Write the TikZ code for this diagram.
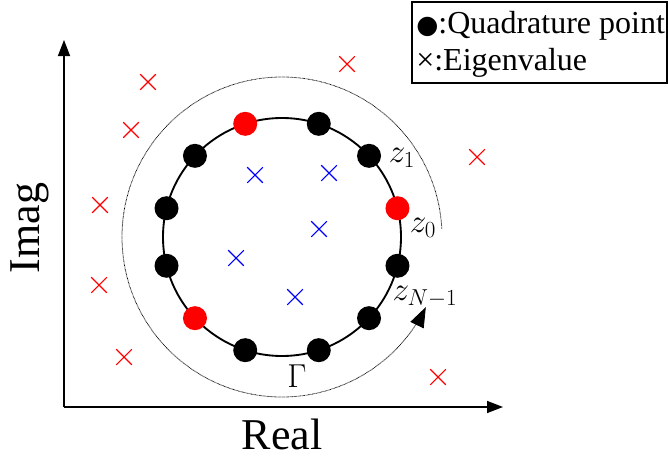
\documentclass[tikz,border=0pt]{standalone}
\usepackage{fontspec}
\setmainfont{Liberation Serif}
\newfontfamily\djv{DejaVu Sans}
\usetikzlibrary{arrows.meta,shapes.misc,calc}
\tikzset{
  ax/.style={line width=1.1pt,-{Triangle[length=12pt,width=9pt]}},
  qp/.style={circle,fill=black,inner sep=0pt,minimum size=18pt},
  rp/.style={qp,fill=red},
  evout/.style={cross out,draw=red,line width=0.8pt,minimum size=11pt,inner sep=0pt},
  evin/.style={evout,draw=blue},
  zlab/.style={inner sep=0pt,font=\fontsize{23}{27}\selectfont},
  big/.style={inner sep=0pt,font=\fontsize{33}{40}\selectfont},
  leg/.style={inner sep=0pt,anchor=base west,font=\fontsize{24}{28}\selectfont}
}
\begin{document}
\begin{tikzpicture}[x=0.75pt,y=-0.75pt]
\useasboundingbox (0,0) rectangle (668,457);
% axes
\coordinate (O) at (64,407);
\coordinate (ytip) at (64,40);
\coordinate (xtip) at (503,407);
\draw[ax] (O) -- (ytip);
\draw[ax] (O) -- (xtip);
\node[big,rotate=90] (imag) at (30,228) {Imag};
\node[big] (real) at (282,434) {Real};
% contour
\coordinate (c) at (282,237);
\draw[line width=1.4pt] (c) circle[radius=119];
% dotted arc
\coordinate (as) at ($(c)+(-3:160)$);
\coordinate (ae) at ($(c)+(-334:160)$);
\coordinate (ab) at ($(ae)+(-8.8,18)$);
\draw[line width=0.6pt,dash pattern=on 0.5pt off 0.5pt] (as) arc[start angle=-3,end angle=-330,radius=160];
\draw[line width=0.6pt,-{Triangle[length=15pt,width=11pt]}] (ab) -- (ae);
% quadrature points (visual angle = -angle here)
\node[rp] (z0) at ($(c)+(-14:119)$) {};
\node[qp] (z1) at ($(c)+(-43:119)$) {};
\node[qp] (z2) at ($(c)+(-72:119)$) {};
\node[rp] (z3) at ($(c)+(-108:119)$) {};
\node[qp] (z4) at ($(c)+(-137:119)$) {};
\node[qp] (z5) at ($(c)+(-166:119)$) {};
\node[qp] (z6) at ($(c)+(-194:119)$) {};
\node[rp] (z7) at ($(c)+(-223:119)$) {};
\node[qp] (z8) at ($(c)+(-252:119)$) {};
\node[qp] (z9) at ($(c)+(-288:119)$) {};
\node[qp] (z10) at ($(c)+(-317:119)$) {};
\node[qp] (z11) at ($(c)+(-346:119)$) {};
% labels
\node[zlab] (l1) at (402,158) {$z_1$};
\node[zlab] (l0) at (423,228) {$z_0$};
\node[zlab] (lN) at (425,297) {$z_{N-1}$};
\node[inner sep=0pt,font=\fontsize{29}{33}\selectfont] (lG) at (297,376) {$\Gamma$};
% eigenvalues outside
\node[evout] (e1) at (148,82) {};
\node[evout] (e2) at (131,130) {};
\node[evout] (e3) at (100,205) {};
\node[evout] (e4) at (99,285) {};
\node[evout] (e5) at (124,357) {};
\node[evout] (e6) at (347,64) {};
\node[evout] (e7) at (477,157) {};
\node[evout] (e8) at (438,377) {};
% eigenvalues inside
\node[evin] (i1) at (255,175) {};
\node[evin] (i2) at (329,173) {};
\node[evin] (i3) at (319,229) {};
\node[evin] (i4) at (236,258) {};
\node[evin] (i5) at (295,297) {};
% legend
\draw[line width=0.8pt] (412,2) rectangle (667,83);
\node[leg] (leg1) at (416,33) {{\djv\fontsize{19}{19}\selectfont ●}:Quadrature point};
\node[leg] (leg2) at (416,70) {×:Eigenvalue};
\end{tikzpicture}
\end{document}
